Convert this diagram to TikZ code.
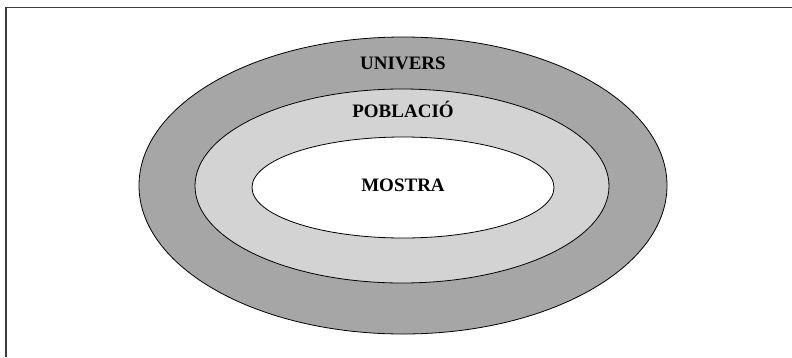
\documentclass[tikz,border=0pt]{standalone}
\usepackage{fontspec}
\setmainfont{Liberation Serif}
\usetikzlibrary{shapes.geometric}
\definecolor{darkring}{RGB}{166,166,166}
\definecolor{lightring}{RGB}{211,211,211}
\definecolor{framecol}{RGB}{60,60,60}
\tikzset{
  ring/.style={ellipse, draw=black, line width=0.8pt, inner sep=0pt},
  lbl/.style={font=\fontsize{19}{22}\selectfont\bfseries, inner sep=0pt}
}
\begin{document}
\begin{tikzpicture}[x=1pt,y=-1pt]
\useasboundingbox (0,0) rectangle (792,357);
\fill[white] (0,0) rectangle (792,357);
\draw[framecol, line width=1.6pt] (5.8,357) -- (5.8,7.5) -- (792,7.5);
\node[ring, fill=darkring, minimum width=528pt, minimum height=297pt] (univers) at (403,185.5) {};
\node[ring, fill=lightring, minimum width=414pt, minimum height=194pt] (poblacio) at (402,186) {};
\node[ring, fill=white, minimum width=302pt, minimum height=101pt] (mostra) at (403,187.5) {};
\node[lbl] (tunivers) at (403,63.5) {UNIVERS};
\node[lbl] (tpoblacio) at (403,109.5) {POBLACIÓ};
\node[lbl] (tmostra) at (403,185.5) {MOSTRA};
\end{tikzpicture}
\end{document}
